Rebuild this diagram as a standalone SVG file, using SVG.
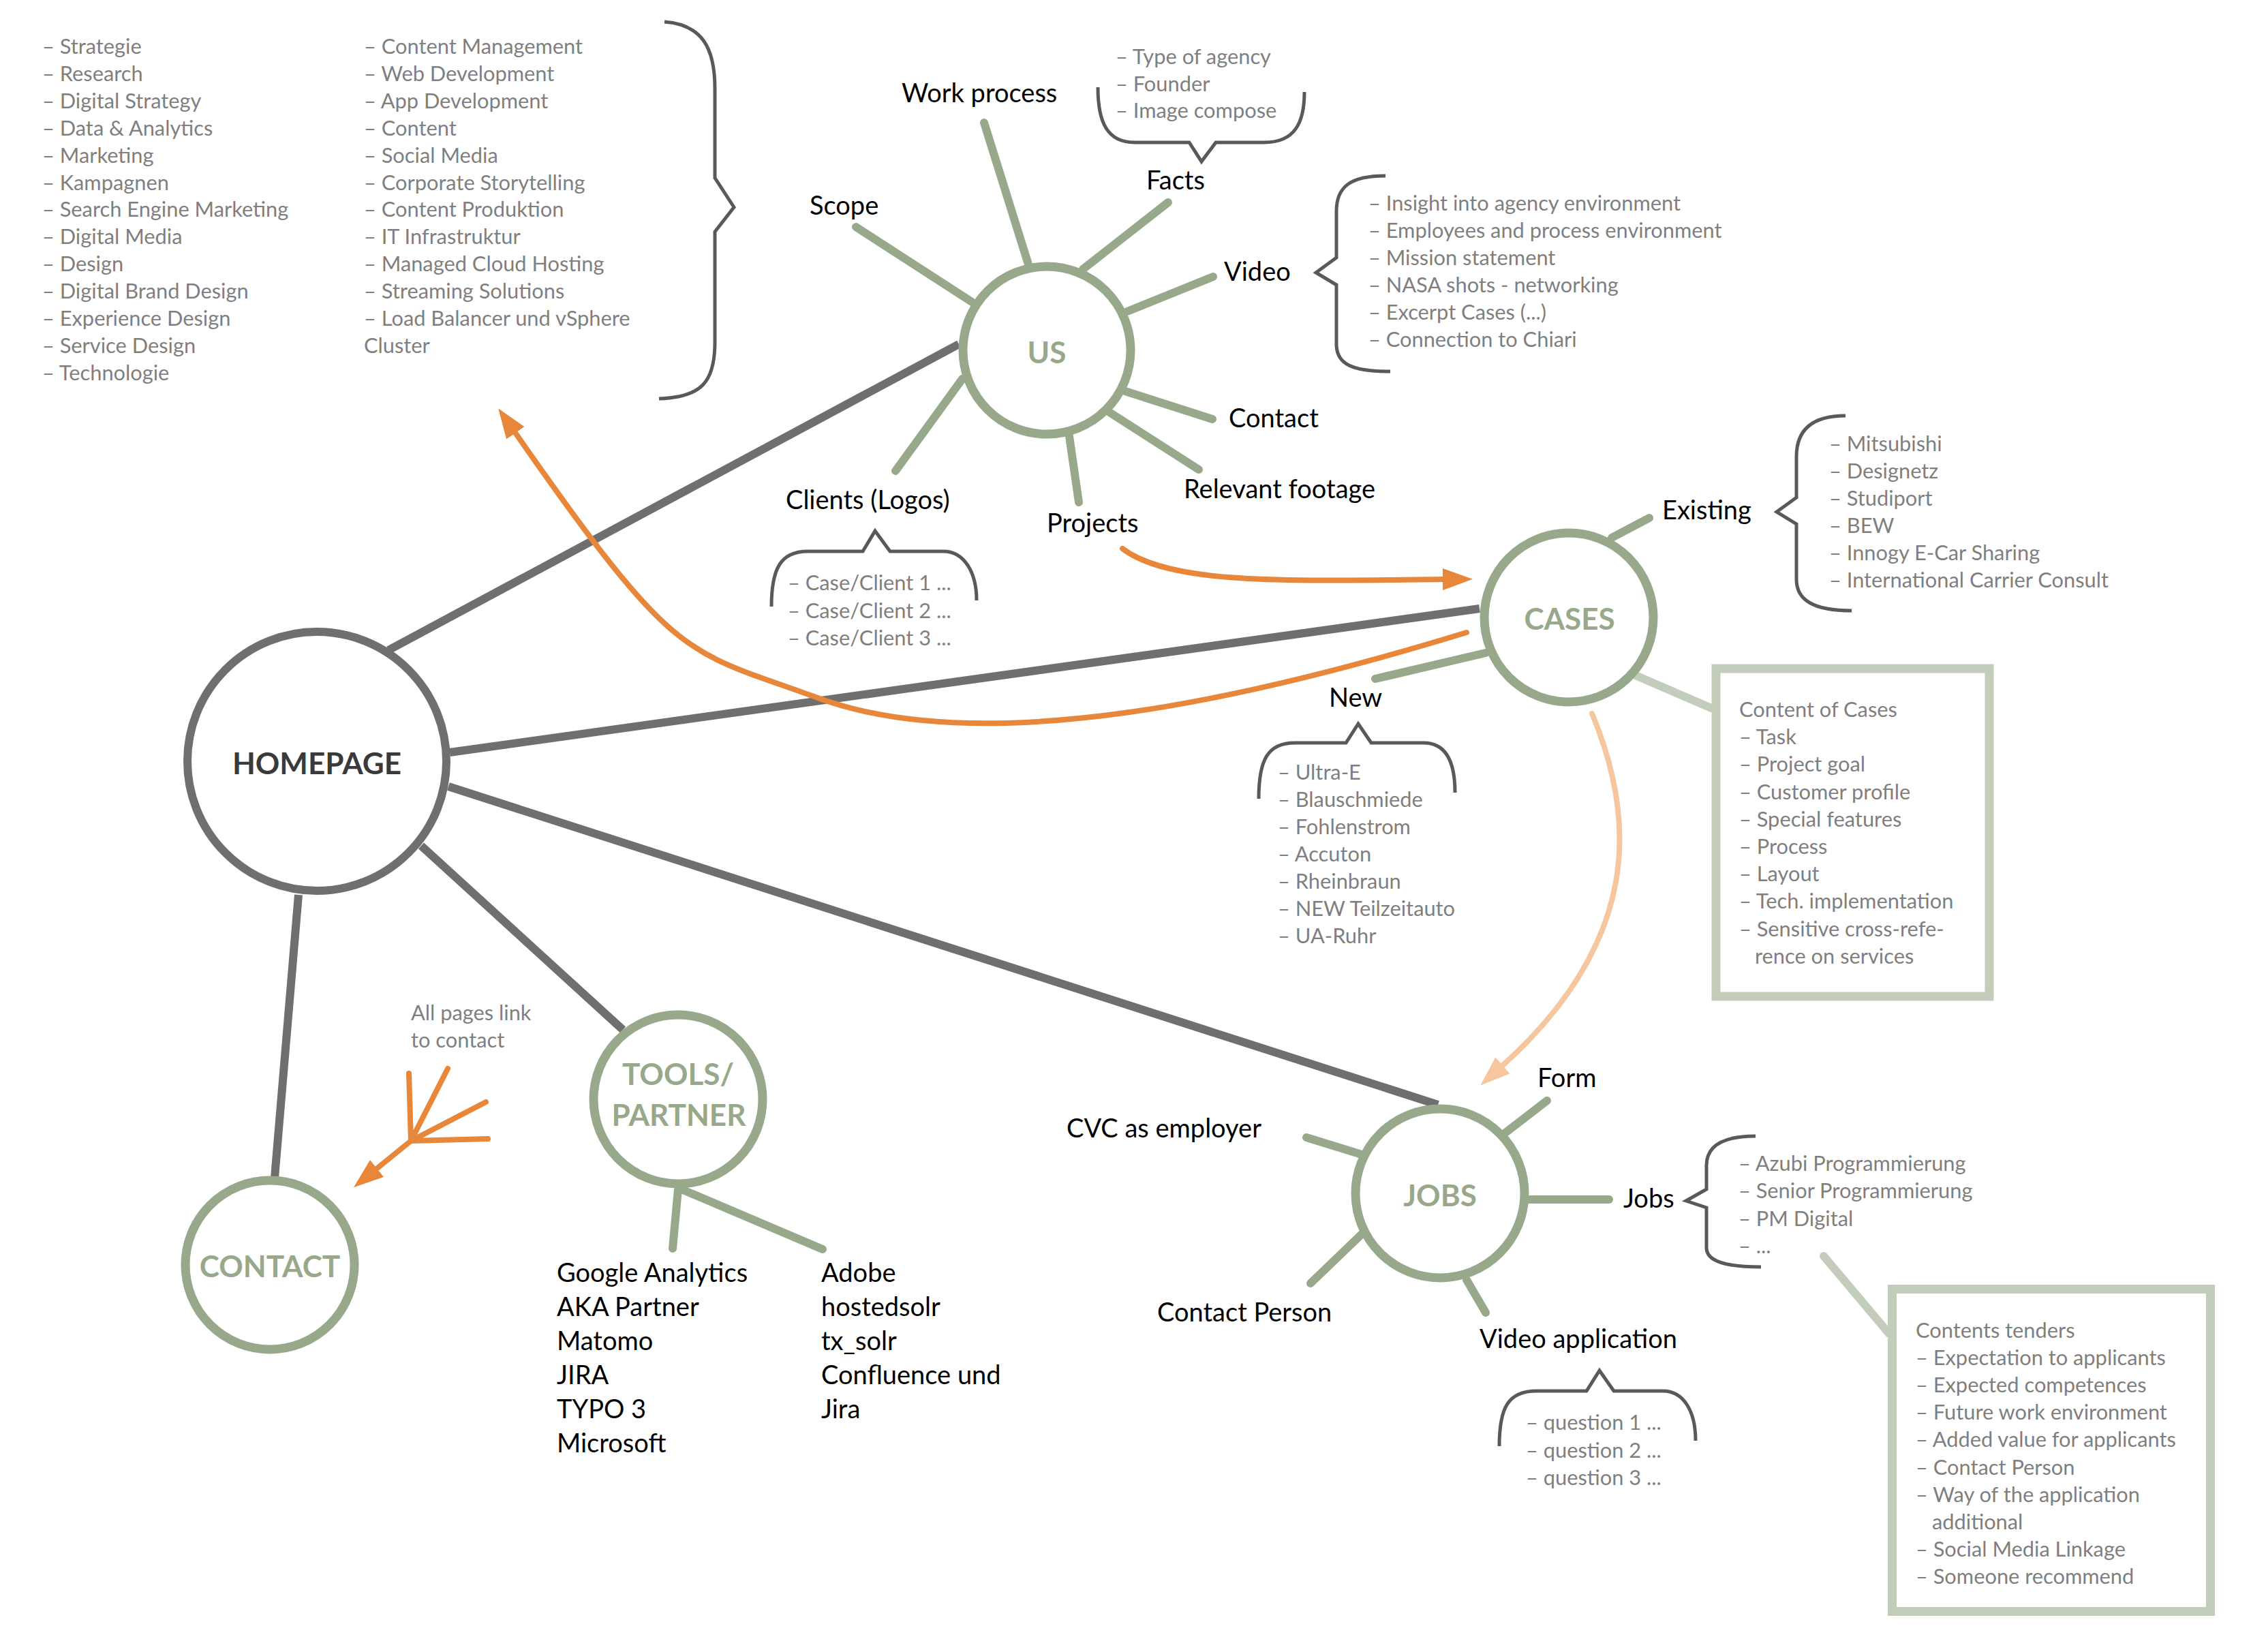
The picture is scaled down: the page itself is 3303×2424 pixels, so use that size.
<svg xmlns="http://www.w3.org/2000/svg" width="3303" height="2424" viewBox="0 0 3303 2424">
<style>
text{font-family:Lato,"Liberation Sans",sans-serif}
.g{font-size:30.8px;fill:#7f7f7f}
.b{font-size:38px;fill:#000}
.nl{font-size:44px;font-weight:bold;text-anchor:middle;fill:#97a98a}
.hp{fill:#3a3a3a}
.main{stroke:#6f6f6f;stroke-width:12;fill:none}
.spoke{stroke:#97a98a;stroke-width:12;stroke-linecap:round;fill:none}
.lspoke{stroke:#c3cdbc;stroke-width:12;stroke-linecap:round;fill:none}
.node{fill:#fff;stroke:#97a98a;stroke-width:13}
.brace{stroke:#595959;stroke-width:5;fill:none}
.or{stroke:#e8873a;stroke-width:8;fill:none;stroke-linecap:round}
.lor{stroke:#f6c69e;stroke-width:8;fill:none;stroke-linecap:round}
.box{fill:#fff;stroke:#c3cdbc;stroke-width:13}
</style>
<defs>
<marker id="ao" viewBox="0 0 44 32" refX="4" refY="16" markerWidth="44" markerHeight="32" markerUnits="userSpaceOnUse" orient="auto"><path d="M0,0 L44,16 L0,32 z" fill="#e8873a"/></marker>
<marker id="al" viewBox="0 0 44 32" refX="4" refY="16" markerWidth="44" markerHeight="32" markerUnits="userSpaceOnUse" orient="auto"><path d="M0,0 L44,16 L0,32 z" fill="#f6c69e"/></marker>
</defs>
<rect width="3303" height="2424" fill="#fff"/>

<g id="connectors">
<path class="main" d="M570,954 L1407,505"/>
<path class="main" d="M660,1104 L2171,893"/>
<path class="main" d="M658,1154 L2110,1621"/>
<path class="main" d="M618,1241 L914,1511"/>
<path class="main" d="M438,1313 L403,1728"/>
<path class="spoke" d="M1444,180 L1509,388"/>
<path class="spoke" d="M1714,297 L1589,395"/>
<path class="spoke" d="M1256,333 L1426,443"/>
<path class="spoke" d="M1780,406 L1654,457"/>
<path class="spoke" d="M1779,615 L1651,574"/>
<path class="spoke" d="M1759,689 L1628,605"/>
<path class="spoke" d="M1583,737 L1569,640"/>
<path class="spoke" d="M1314,691 L1412,556"/>
<path class="spoke" d="M2420,760 L2365,789"/>
<path class="spoke" d="M2018,996 L2180,958"/>
<path class="lspoke" d="M2400,991 L2511,1039"/>
<path class="spoke" d="M2270,1615 L2209,1662"/>
<path class="spoke" d="M1917,1669 L1998,1694"/>
<path class="spoke" d="M2361,1760 L2244,1760"/>
<path class="spoke" d="M1923,1883 L1999,1810"/>
<path class="spoke" d="M2180,1926 L2152,1878"/>
<path class="lspoke" d="M2676,1843 L2772,1957"/>
<path class="spoke" d="M987,1832 L995,1745"/>
<path class="spoke" d="M1207,1833 L1000,1745"/>
<path class="or" d="M1647,805 C1720,860 1900,852 2121,850" marker-end="url(#ao)"/>
<path class="or" d="M2152,928 C1852,1020 1450,1116 1200,1024 C1005,952 997,981 754,632" marker-end="url(#ao)"/>
<path class="lor" d="M2336,1047 C2400,1200 2410,1380 2202,1566" marker-end="url(#al)"/>
<path class="or" d="M600,1575 L603,1674 M657,1568 L603,1674 M713,1617 L603,1674 M716,1671 L603,1674"/>
<path class="or" d="M603,1674 L550,1717" marker-end="url(#ao)"/>
</g>

<g id="braces">
<path class="brace" d="M975,32 C1030,36 1049,70 1049,130 L1049,261 L1077,304 L1049,340 L1049,502 C1049,560 1030,583 967,585"/>
<path class="brace" d="M1611,128 C1611,180 1625,209 1665,209 L1745,209 L1763,237 L1784,209 L1855,209 C1900,209 1914,180 1914,135"/>
<path class="brace" d="M2033,258 C1980,258 1961,275 1961,310 L1961,378 L1931,400 L1961,418 L1961,505 C1961,535 1985,545 2040,545"/>
<path class="brace" d="M2708,610 C2660,610 2636,630 2636,670 L2636,730 L2607,751 L2636,769 L2636,850 C2636,880 2660,896 2717,896"/>
<path class="brace" d="M1132,890 C1132,835 1145,809 1185,809 L1266,809 L1284,779 L1306,809 L1384,809 C1415,809 1433,840 1433,881"/>
<path class="brace" d="M1847,1172 C1847,1115 1860,1090 1900,1090 L1975,1090 L1993,1062 L2012,1090 L2089,1090 C2120,1090 2135,1115 2135,1163"/>
<path class="brace" d="M2200,2122 C2200,2065 2213,2041 2255,2041 L2328,2041 L2347,2011 L2368,2041 L2440,2041 C2470,2041 2488,2070 2488,2114"/>
<path class="brace" d="M2576,1667 C2530,1667 2504,1680 2504,1710 L2504,1745 L2474,1762 L2504,1772 L2504,1831 C2504,1850 2530,1859 2584,1859"/>
</g>

<g id="homepage">
<circle cx="465" cy="1117" r="190" fill="#fff" stroke="#6f6f6f" stroke-width="12"/>
<text class="nl hp" x="465" y="1136">HOMEPAGE</text>
</g>
<g id="us">
<circle class="node" cx="1536" cy="514" r="123"/>
<text class="nl" x="1536" y="533">US</text>
</g>
<g id="cases">
<circle class="node" cx="2302" cy="906" r="124"/>
<text class="nl" x="2303" y="924">CASES</text>
</g>
<g id="jobs">
<circle class="node" cx="2113" cy="1751" r="124"/>
<text class="nl" x="2113" y="1770">JOBS</text>
</g>
<g id="tools">
<circle class="node" cx="995" cy="1613" r="124"/>
<text class="nl" x="995" y="1592">TOOLS/</text>
<text class="nl" x="996" y="1652">PARTNER</text>
</g>
<g id="contact">
<circle class="node" cx="396" cy="1856" r="124"/>
<text class="nl" x="396" y="1874">CONTACT</text>
</g>

<g id="services-list">
<text class="g" x="62" y="79">– Strategie<tspan x="62" dy="39.9">– Research</tspan><tspan x="62" dy="39.9">– Digital Strategy</tspan><tspan x="62" dy="39.9">– Data &amp; Analytics</tspan><tspan x="62" dy="39.9">– Marketing</tspan><tspan x="62" dy="39.9">– Kampagnen</tspan><tspan x="62" dy="39.9">– Search Engine Marketing</tspan><tspan x="62" dy="39.9">– Digital Media</tspan><tspan x="62" dy="39.9">– Design</tspan><tspan x="62" dy="39.9">– Digital Brand Design</tspan><tspan x="62" dy="39.9">– Experience Design</tspan><tspan x="62" dy="39.9">– Service Design</tspan><tspan x="62" dy="39.9">– Technologie</tspan></text>
<text class="g" x="534" y="79">– Content Management<tspan x="534" dy="39.9">– Web Development</tspan><tspan x="534" dy="39.9">– App Development</tspan><tspan x="534" dy="39.9">– Content</tspan><tspan x="534" dy="39.9">– Social Media</tspan><tspan x="534" dy="39.9">– Corporate Storytelling</tspan><tspan x="534" dy="39.9">– Content Produktion</tspan><tspan x="534" dy="39.9">– IT Infrastruktur</tspan><tspan x="534" dy="39.9">– Managed Cloud Hosting</tspan><tspan x="534" dy="39.9">– Streaming Solutions</tspan><tspan x="534" dy="39.9">– Load Balancer und vSphere</tspan><tspan x="534" dy="39.9">Cluster</tspan></text>
</g>

<g id="us-labels">
<text class="b" x="1323" y="150">Work process</text>
<text class="b" x="1682" y="278">Facts</text>
<text class="b" x="1188" y="315">Scope</text>
<text class="b" x="1796" y="412">Video</text>
<text class="b" x="1803" y="627">Contact</text>
<text class="b" x="1737" y="731">Relevant footage</text>
<text class="b" x="1536" y="781">Projects</text>
<text class="b" x="1153" y="747">Clients (Logos)</text>
<text class="g" x="1637" y="94">– Type of agency<tspan x="1637" dy="39.5">– Founder</tspan><tspan x="1637" dy="39.5">– Image compose</tspan></text>
<text class="g" x="2008" y="309">– Insight into agency environment<tspan x="2008" dy="40">– Employees and process environment</tspan><tspan x="2008" dy="40">– Mission statement</tspan><tspan x="2008" dy="40">– NASA shots - networking</tspan><tspan x="2008" dy="40">– Excerpt Cases (...)</tspan><tspan x="2008" dy="40">– Connection to Chiari</tspan></text>
<text class="g" x="1156" y="866">– Case/Client 1 ...<tspan x="1156" dy="40.5">– Case/Client 2 ...</tspan><tspan x="1156" dy="40.5">– Case/Client 3 ...</tspan></text>
</g>

<g id="cases-labels">
<text class="b" x="2439" y="762">Existing</text>
<text class="b" x="1950" y="1037">New</text>
<text class="g" x="2684" y="662">– Mitsubishi<tspan x="2684" dy="40">– Designetz</tspan><tspan x="2684" dy="40">– Studiport</tspan><tspan x="2684" dy="40">– BEW</tspan><tspan x="2684" dy="40">– Innogy E-Car Sharing</tspan><tspan x="2684" dy="40">– International Carrier Consult</tspan></text>
<text class="g" x="1875" y="1144">– Ultra-E<tspan x="1875" dy="40">– Blauschmiede</tspan><tspan x="1875" dy="40">– Fohlenstrom</tspan><tspan x="1875" dy="40">– Accuton</tspan><tspan x="1875" dy="40">– Rheinbraun</tspan><tspan x="1875" dy="40">– NEW Teilzeitauto</tspan><tspan x="1875" dy="40">– UA-Ruhr</tspan></text>
</g>
<g id="cases-box">
<rect class="box" x="2518" y="981" width="401" height="481"/>
<text class="g" x="2552" y="1052">Content of Cases<tspan x="2552" dy="40.2">– Task</tspan><tspan x="2552" dy="40.2">– Project goal</tspan><tspan x="2552" dy="40.2">– Customer profile</tspan><tspan x="2552" dy="40.2">– Special features</tspan><tspan x="2552" dy="40.2">– Process</tspan><tspan x="2552" dy="40.2">– Layout</tspan><tspan x="2552" dy="40.2">– Tech. implementation</tspan><tspan x="2552" dy="40.2">– Sensitive cross-refe-</tspan><tspan x="2575" dy="40.2">rence on services</tspan></text>
</g>

<g id="jobs-labels">
<text class="b" x="2256" y="1595">Form</text>
<text class="b" x="1565" y="1669">CVC as employer</text>
<text class="b" x="2382" y="1772">Jobs</text>
<text class="b" x="1698" y="1939">Contact Person</text>
<text class="b" x="2171" y="1978">Video application</text>
<text class="g" x="2551" y="1718">– Azubi Programmierung<tspan x="2551" dy="40.3">– Senior Programmierung</tspan><tspan x="2551" dy="40.3">– PM Digital</tspan><tspan x="2551" dy="40.3">– ...</tspan></text>
<text class="g" x="2239" y="2098">– question 1 ...<tspan x="2239" dy="40.5">– question 2 ...</tspan><tspan x="2239" dy="40.5">– question 3 ...</tspan></text>
</g>
<g id="jobs-box">
<rect class="box" x="2776.5" y="1891.5" width="467" height="473"/>
<text class="g" x="2811" y="1963">Contents tenders<tspan x="2811" dy="40.1">– Expectation to applicants</tspan><tspan x="2811" dy="40.1">– Expected competences</tspan><tspan x="2811" dy="40.1">– Future work environment</tspan><tspan x="2811" dy="40.1">– Added value for applicants</tspan><tspan x="2811" dy="40.1">– Contact Person</tspan><tspan x="2811" dy="40.1">– Way of the application</tspan><tspan x="2835" dy="40.1">additional</tspan><tspan x="2811" dy="40.1">– Social Media Linkage</tspan><tspan x="2811" dy="40.1">– Someone recommend</tspan></text>
</g>

<g id="tools-labels">
<text class="b" x="817" y="1881">Google Analytics<tspan x="817" dy="50">AKA Partner</tspan><tspan x="817" dy="50">Matomo</tspan><tspan x="817" dy="50">JIRA</tspan><tspan x="817" dy="50">TYPO 3</tspan><tspan x="817" dy="50">Microsoft</tspan></text>
<text class="b" x="1205" y="1881">Adobe<tspan x="1205" dy="50">hostedsolr</tspan><tspan x="1205" dy="50">tx_solr</tspan><tspan x="1205" dy="50">Confluence und</tspan><tspan x="1205" dy="50">Jira</tspan></text>
</g>

<g id="contact-note">
<text class="g" x="603" y="1497">All pages link<tspan x="603" dy="40">to contact</tspan></text>
</g>
</svg>
